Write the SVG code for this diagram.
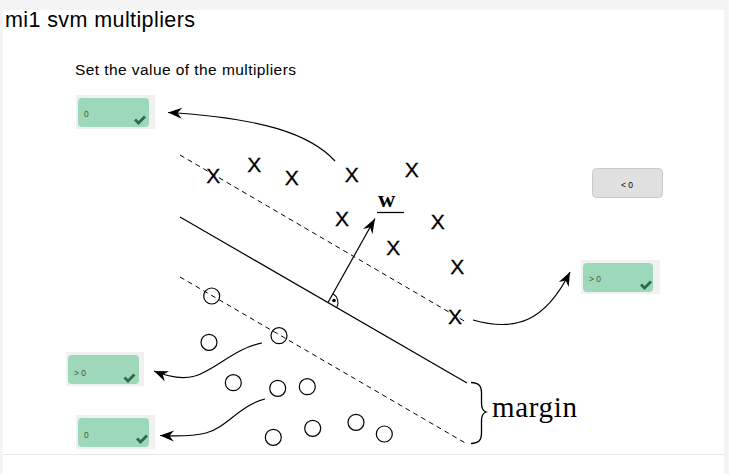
<svg xmlns="http://www.w3.org/2000/svg" width="729" height="474" viewBox="0 0 729 474">
<defs>
<marker id="stealth" markerWidth="16" markerHeight="12" refX="0" refY="0" viewBox="-15 -6 16 12" orient="auto" markerUnits="userSpaceOnUse">
<path d="M0,0 L-14,-5.5 L-9.5,0 L-14,5.5 Z" fill="#000"/>
</marker>
<marker id="vec" markerWidth="17" markerHeight="13" refX="0" refY="0" viewBox="-16 -6.5 17 13" orient="auto" markerUnits="userSpaceOnUse">
<path d="M0,0 L-15,-5.5 L-10,0 L-15,5.5 Z" fill="#000"/>
</marker>
</defs>
<style>
.backdrop{fill:#f1f1f1}
.green{fill:#9dd8bb}
.gray{fill:#e0e0e0;stroke:#c9c9c9;stroke-width:1}
.val{font-family:"Liberation Sans",Arial,sans-serif;font-size:8.5px;fill:#4b5a2c}
.check{fill:none;stroke:#2e6a4a;stroke-width:2.8;stroke-linecap:butt;stroke-linejoin:miter}
.xm{font-family:"Liberation Sans",Arial,sans-serif;font-size:21px;fill:#000;stroke:#000;stroke-width:0.3;text-anchor:middle}
.pt{fill:none;stroke:#000;stroke-width:1.2}
.dash{stroke:#000;stroke-width:1;stroke-dasharray:5 4;fill:none}
.conn{fill:none;stroke:#000;stroke-width:1.2}
</style>
<rect x="0" y="0" width="729" height="474" fill="#f4f4f4"/>
<rect x="3" y="10" width="721" height="464" fill="#ffffff"/>
<line x1="3" y1="454.5" x2="724" y2="454.5" stroke="#e6e6e6" stroke-width="1"/>
<text x="5" y="27" font-family="'Liberation Sans',Arial,sans-serif" font-size="21.5" textLength="190" fill="#000">mi1 svm multipliers</text>
<text x="75" y="75" font-family="'Liberation Sans',Arial,sans-serif" font-size="15.5" textLength="221" fill="#000">Set the value of the multipliers</text>

<g id="figure">
<line x1="180" y1="217" x2="467" y2="383" stroke="#000" stroke-width="1.2"/>
<line class="dash" x1="180" y1="155" x2="466" y2="322"/>
<line class="dash" x1="180" y1="277" x2="467" y2="444"/>
<line x1="328" y1="302.5" x2="375" y2="218.5" stroke="#000" stroke-width="1.2" marker-end="url(#vec)"/>
<path d="M332.9,293.8 A10,10 0 0 1 336.7,307.5" fill="none" stroke="#000" stroke-width="1.1"/>
<circle cx="334" cy="300.5" r="1.8" fill="#000"/>
<text x="378" y="207" font-family="'Liberation Serif','Times New Roman',serif" font-weight="bold" font-size="24" textLength="23" fill="#000">w</text>
<line x1="377" y1="212.5" x2="404" y2="212.5" stroke="#000" stroke-width="1.3"/>
<text class="xm" x="213.3" y="182.5">X</text>
<text class="xm" x="254.3" y="171.5">X</text>
<text class="xm" x="291.7" y="184.8">X</text>
<text class="xm" x="351.7" y="181.5">X</text>
<text class="xm" x="411.7" y="176.5">X</text>
<text class="xm" x="342" y="225.8">X</text>
<text class="xm" x="437.7" y="229.2">X</text>
<text class="xm" x="393.3" y="254.8">X</text>
<text class="xm" x="457.3" y="274.2">X</text>
<text class="xm" x="455" y="324.2">X</text>
<circle class="pt" cx="211.7" cy="296" r="8"/>
<circle class="pt" cx="279" cy="335.7" r="8"/>
<circle class="pt" cx="209" cy="342.3" r="8"/>
<circle class="pt" cx="233.3" cy="382.7" r="8"/>
<circle class="pt" cx="277.7" cy="388.3" r="8"/>
<circle class="pt" cx="307.3" cy="386.7" r="8"/>
<circle class="pt" cx="273.3" cy="437.3" r="8"/>
<circle class="pt" cx="312.7" cy="428.3" r="8"/>
<circle class="pt" cx="356" cy="422.3" r="8"/>
<circle class="pt" cx="384.3" cy="434" r="8"/>
<path d="M471,382.5 C479,383 481.5,386 481.5,393 L481.5,403 C481.5,409 483,411 486,412 C483,413 481.5,415 481.5,421 L481.5,433 C481.5,440 479,443 471,443.5" fill="none" stroke="#000" stroke-width="1.3"/>
<text x="492" y="417" font-family="'Liberation Serif','Times New Roman',serif" font-size="29" textLength="85" fill="#000">margin</text>
</g>

<g id="connectors">
<path class="conn" d="M335,161 C310,134 262,118 168,112.5" marker-end="url(#stealth)"/>
<path class="conn" d="M473,320 C515,332 545,322 570,272" marker-end="url(#stealth)"/>
<path class="conn" d="M262,343 C235,348 215,370 195,376 C180,380 166,376 154,371" marker-end="url(#stealth)"/>
<path class="conn" d="M265,399 C240,405 226,428 206,433 C190,437 175,436 160,435.5" marker-end="url(#stealth)"/>
</g>

<g id="box-top-left">
<rect class="backdrop" x="76" y="95" width="79" height="34"/>
<rect class="green" x="78" y="98" width="71" height="29" rx="4"/>
<text class="val" x="84" y="117">0</text>
<path class="check" d="M135,119.5 L138.5,123 L145,116.5"/>
</g>
<g id="box-neg">
<rect class="gray" x="592.5" y="168.5" width="70" height="29" rx="4"/>
<text x="627" y="188" font-family="'Liberation Sans',Arial,sans-serif" font-size="8.5" text-anchor="middle" fill="#000">&lt; 0</text>
</g>
<g id="box-right">
<rect class="backdrop" x="581" y="260" width="79" height="34"/>
<rect class="green" x="583" y="263" width="70" height="29" rx="4"/>
<text class="val" x="589" y="282">&gt; 0</text>
<path class="check" d="M641,284.5 L644.5,288 L651,281.5"/>
</g>
<g id="box-mid-left">
<rect class="backdrop" x="66" y="352" width="78" height="34"/>
<rect class="green" x="68" y="355" width="71" height="29" rx="4"/>
<text class="val" x="74" y="375.5">&gt; 0</text>
<path class="check" d="M124.5,377.5 L128,381 L134.5,374.5"/>
</g>
<g id="box-bottom-left">
<rect class="backdrop" x="76" y="415" width="79" height="34"/>
<rect class="green" x="78" y="418" width="71" height="29" rx="4"/>
<text class="val" x="84" y="437.5">0</text>
<path class="check" d="M137,438.5 L140.5,442 L147,435.5"/>
</g>
</svg>
